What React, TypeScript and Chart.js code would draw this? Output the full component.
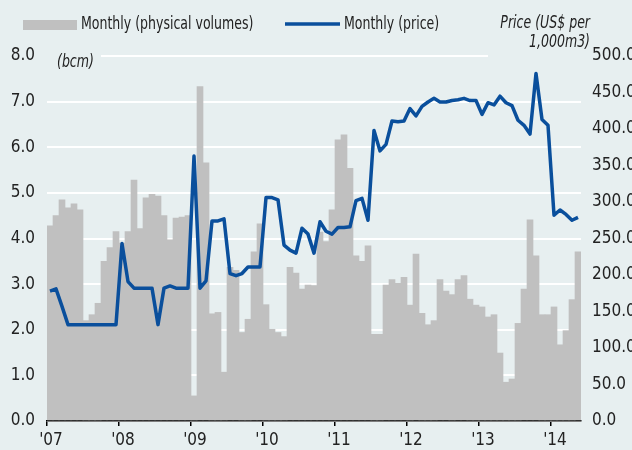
import React, { useEffect, useRef } from "react";
import { Chart, registerables } from "chart.js";

Chart.register(...registerables);

const yearLabels = ["'07", "'08", "'09", "'10", "'11", "'12", "'13", "'14"];

// Monthly physical volumes (bcm), Jan 2007 - May 2014
const volumes2007 = [4.28, 4.5, 4.85, 4.67, 4.76, 4.63, 2.2, 2.33, 2.58, 3.5, 3.8, 4.15];
const volumes2008 = [3.9, 4.15, 5.28, 4.22, 4.89, 4.97, 4.93, 4.5, 3.97, 4.45, 4.47, 4.5];
const volumes2009 = [0.55, 7.33, 5.66, 2.35, 2.38, 1.07, 3.37, 3.3, 1.94, 2.23, 3.71, 4.32];
const volumes2010 = [2.55, 2.01, 1.94, 1.85, 3.37, 3.24, 2.89, 2.98, 2.97, 4.14, 3.93, 4.63];
const volumes2011 = [6.16, 6.27, 5.54, 3.62, 3.5, 3.84, 1.9, 1.9, 2.98, 3.1, 3.02, 3.15];
const volumes2012 = [2.54, 3.66, 2.36, 2.11, 2.2, 3.1, 2.85, 2.77, 3.1, 3.19, 2.67, 2.54];
const volumes2013 = [2.5, 2.28, 2.33, 1.49, 0.85, 0.92, 2.14, 2.89, 4.41, 3.62, 2.33, 2.33];
const volumes2014 = [2.5, 1.67, 1.98, 2.66, 3.71];

// Monthly price (US$ per 1,000m3)
const prices2007 = [178, 181, 157, 132, 132, 132, 132, 132, 132, 132, 132, 132];
const prices2008 = [243, 191, 182, 182, 182, 182, 132, 182, 185, 182, 182, 182];
const prices2009 = [363, 182, 192, 274, 274, 277, 202, 199, 202, 211, 211, 211];
const prices2010 = [306, 306, 303, 241, 234, 230, 264, 256, 230, 273, 260, 256];
const prices2011 = [265, 265, 266, 302, 305, 275, 398, 370, 379, 411, 410, 411];
const prices2012 = [428, 418, 431, 437, 442, 437, 437, 439, 440, 442, 439, 439];
const prices2013 = [420, 436, 433, 445, 436, 432, 412, 405, 393, 476, 413, 405];
const prices2014 = [282, 289, 283, 275, 279];

const volumes = [
  ...volumes2007, ...volumes2008, ...volumes2009, ...volumes2010,
  ...volumes2011, ...volumes2012, ...volumes2013, ...volumes2014,
];
const prices = [
  ...prices2007, ...prices2008, ...prices2009, ...prices2010,
  ...prices2011, ...prices2012, ...prices2013, ...prices2014,
];

const BG = "#e7eff0";
const BAR = "#c0c0c0";
const LINE = "#0a4f9c";
const TEXT = "#222222";
const FONT = "'DejaVu Sans Condensed', 'DejaVu Sans', sans-serif";
const SQUEEZE = 0.82;

function squeezedText(ctx: CanvasRenderingContext2D, text: string, x: number, y: number, align: "left" | "right") {
  ctx.save();
  ctx.translate(x, y);
  ctx.scale(SQUEEZE, 1);
  ctx.textAlign = align;
  ctx.fillText(text, 0, 0);
  ctx.restore();
}

const overlayPlugin = {
  id: "overlay",
  afterDraw(chart: any) {
    const ctx = chart.ctx as CanvasRenderingContext2D;
    const area = chart.chartArea;
    ctx.save();
    // hide top gridline under the axis titles
    ctx.fillStyle = BG;
    ctx.fillRect(area.left - 1, area.top - 4, 55, 8);
    ctx.fillRect(488, area.top - 4, area.right - 488 + 2, 8);

    ctx.textBaseline = "middle";
    // legend
    ctx.fillStyle = BAR;
    ctx.fillRect(23, 20, 54, 10);
    ctx.fillStyle = TEXT;
    ctx.font = `17px ${FONT}`;
    squeezedText(ctx, "Monthly (physical volumes)", 81, 25, "left");
    ctx.strokeStyle = LINE;
    ctx.lineWidth = 3.5;
    ctx.beginPath();
    ctx.moveTo(285, 24);
    ctx.lineTo(340, 24);
    ctx.stroke();
    squeezedText(ctx, "Monthly (price)", 344, 25, "left");

    // axis titles
    ctx.font = `italic 17px ${FONT}`;
    squeezedText(ctx, "(bcm)", 57, 63, "left");
    squeezedText(ctx, "Price (US$ per", 590, 24, "right");
    squeezedText(ctx, "1,000m3)", 590, 43, "right");
    ctx.restore();
  },
};

export default function App() {
  const canvasRef = useRef<HTMLCanvasElement | null>(null);

  useEffect(() => {
    const canvas = canvasRef.current;
    if (!canvas) return;
    const tickFont = { family: FONT, size: 17 };
    const chart = new Chart(canvas, {
      data: {
        datasets: [
          {
            type: "line",
            label: "Monthly (price)",
            data: prices.map((v, i) => ({ x: i + 0.5, y: v })),
            yAxisID: "y1",
            borderColor: LINE,
            borderWidth: 3.5,
            pointRadius: 0,
            tension: 0,
            borderJoinStyle: "round",
            order: 0,
          },
          {
            type: "bar",
            label: "Monthly (physical volumes)",
            data: volumes.map((v, i) => ({ x: i + 0.5, y: v })),
            yAxisID: "y",
            backgroundColor: BAR,
            borderWidth: 0,
            barPercentage: 1,
            categoryPercentage: 1,
            order: 1,
          },
        ],
      } as any,
      options: {
        animation: false,
        responsive: false,
        maintainAspectRatio: false,
        layout: { padding: { top: 56, left: 0, right: 0, bottom: 0 } },
        plugins: {
          legend: { display: false },
          tooltip: { enabled: false },
        },
        scales: {
          x: {
            type: "linear",
            offset: false,
            min: 0,
            max: volumes.length,
            afterBuildTicks: (axis: any) => {
              axis.ticks = yearLabels.map((_, i) => ({ value: i * 12 }));
            },
            afterFit: (axis: any) => {
              axis.height = 29;
            },
            ticks: {
              callback: (_v: any, i: number) => yearLabels[i],
              font: tickFont,
              color: TEXT,
              labelOffset: 4,
              padding: 4,
              autoSkip: false,
              maxRotation: 0,
            },
            grid: {
              offset: false,
              drawOnChartArea: false,
              drawTicks: true,
              tickLength: 5,
              color: "#000",
              lineWidth: 1.5,
            },
            border: { display: true, color: "#000", width: 1.5 },
          },
          y: {
            type: "linear",
            position: "left",
            min: 0,
            max: 8,
            afterFit: (axis: any) => {
              axis.width = 47;
            },
            ticks: {
              stepSize: 1,
              callback: (v: any) => Number(v).toFixed(1),
              font: tickFont,
              color: TEXT,
              padding: 12,
            },
            grid: { color: "#ffffff", lineWidth: 2, drawTicks: false },
            border: { display: false },
          },
          y1: {
            type: "linear",
            position: "right",
            min: 0,
            max: 500,
            afterFit: (axis: any) => {
              axis.width = 51;
            },
            ticks: {
              stepSize: 50,
              callback: (v: any) => Number(v).toFixed(1),
              font: tickFont,
              color: TEXT,
              padding: 11,
            },
            grid: { drawOnChartArea: false, drawTicks: false },
            border: { display: false },
          },
        },
      } as any,
      plugins: [overlayPlugin],
    });
    return () => chart.destroy();
  }, []);

  return (
    <div
      style={{
        position: "absolute",
        left: 0,
        top: 0,
        width: 632,
        height: 450,
        background: BG,
        overflow: "hidden",
      }}
    >
      <canvas ref={canvasRef} width={632} height={450} style={{ display: "block" }} />
    </div>
  );
}
